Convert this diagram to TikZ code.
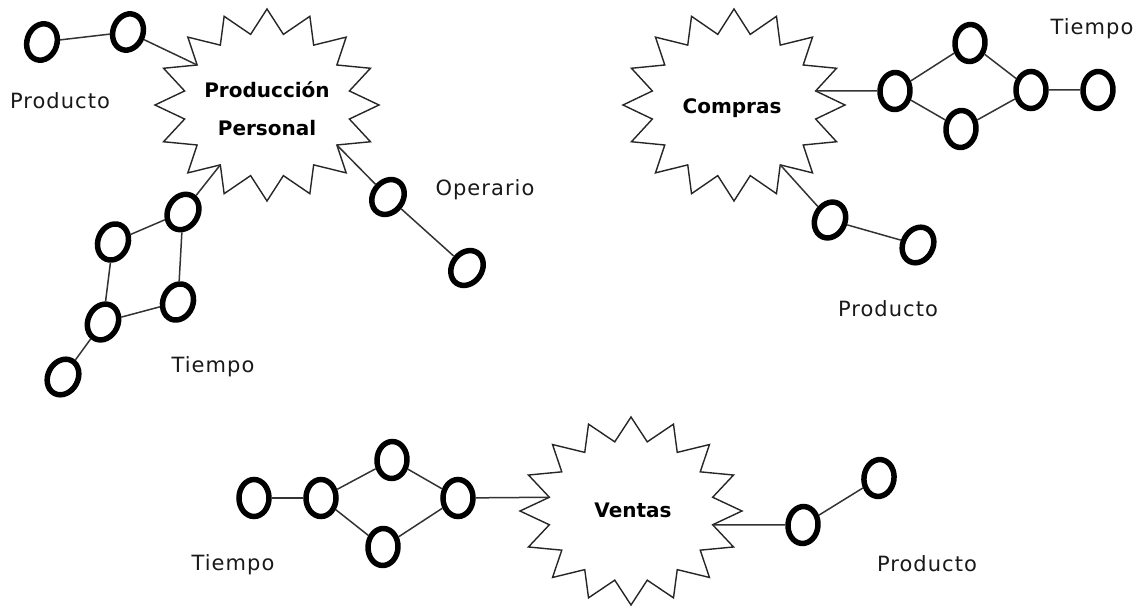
\documentclass[tikz,border=0pt]{standalone}
\usepackage{fontspec}
\setmainfont{DejaVu Sans}
\usetikzlibrary{shapes.geometric}

\tikzset{
  ring/.style={draw=black, ellipse, line width=5.5pt, minimum width=30pt,
               minimum height=37pt, inner sep=0pt},
  link/.style={draw=black!80, line width=1.5pt},
  burstline/.style={draw=black!85, line width=1.4pt, line join=miter, fill=white},
  caption/.style={font=\fontsize{21}{25}\selectfont\addfontfeature{LetterSpace=5},
                  text=black!90, inner sep=0pt},
  title/.style={font=\fontsize{20}{38}\selectfont\bfseries, align=center, inner sep=0pt},
}

% 16-point star centred at (#2,#3) with radii #4, #5; inner vertices are
% named #1-0 ... #1-15
\newcommand\burst[5]{%
  \draw[burstline] plot[samples at={0,...,31}]
    ({#2+#4*(1-0.25*mod(\x,2))*cos(90+11.25*\x)},
     {#3-#5*(1-0.25*mod(\x,2))*sin(90+11.25*\x)}) -- cycle;
  \foreach \k in {0,...,15}
    \coordinate (#1-\k) at ({#2+0.75*#4*cos(101.25+22.5*\k)},
                            {#3-0.75*#5*sin(101.25+22.5*\k)});
}

\begin{document}
\begin{tikzpicture}[x=1pt, y=-1pt]
\useasboundingbox (0,0) rectangle (1141,607);

% ---------------- Producción / Personal ----------------
\burst{prod}{267}{105}{112}{96}
\node[title] (prodtxt) at (267,109) {Producción\\Personal};

\node[ring, rotate=-18] (pa) at (42,42) {};
\node[ring, rotate=-20] (pb) at (128,32) {};
\node[ring, rotate=-30] (t1) at (183,212) {};
\node[ring, rotate=-22] (t2) at (113,242) {};
\node[ring, rotate=-22] (t3) at (178,302) {};
\node[ring, rotate=-25] (t4) at (103,322) {};
\node[ring, rotate=-28] (t5) at (63,377) {};
\node[ring, rotate=-35] (o1) at (388,197) {};
\node[ring, rotate=-35] (o2) at (467,268) {};

\draw[link] (pa) -- (pb);
\draw[link] (pb) -- (prod-2);
\draw[link] (t1) -- (prod-6);
\draw[link] (t1) -- (t2);
\draw[link] (t1) -- (t3);
\draw[link] (t2) -- (t4);
\draw[link] (t3) -- (t4);
\draw[link] (t4) -- (t5);
\draw[link] (o1) -- (prod-10);
\draw[link] (o1) -- (o2);

\node[caption] (lprod1) at (60,101) {Producto};
\node[caption] (ltiem1) at (213,367) {Tiempo};
\node[caption] (loper)  at (485,190) {Operario};

% ---------------- Compras ----------------
\burst{comp}{734}{105}{111}{96}
\node[title] (comptxt) at (732,108) {Compras};

\node[ring, rotate=-3] (c1) at (895,91) {};
\node[ring, rotate=-5] (c2) at (970,43) {};
\node[ring, rotate=-5] (c3) at (961,129) {};
\node[ring]            (c4) at (1031,90) {};
\node[ring, rotate=-3] (c5) at (1098,90) {};
\node[ring, rotate=-25] (cp1) at (830,220) {};
\node[ring, rotate=-28] (cp2) at (918,245) {};

\draw[link] (comp-12) -- (c1);
\draw[link] (c1) -- (c2);
\draw[link] (c1) -- (c3);
\draw[link] (c2) -- (c4);
\draw[link] (c3) -- (c4);
\draw[link] (c4) -- (c5);
\draw[link] (comp-9) -- (cp1);
\draw[link] (cp1) -- (cp2);

\node[caption] (ltiem2) at (1092,29) {Tiempo};
\node[caption] (lprod2) at (888,309) {Producto};

% ---------------- Ventas ----------------
\burst{vent}{631}{511}{111}{94}
\node[title] (venttxt) at (633,510) {Ventas};

\node[ring]            (v1) at (254,498) {};
\node[ring]            (v2) at (321,498) {};
\node[ring, rotate=-3] (v3) at (392,460) {};
\node[ring, rotate=-3] (v4) at (383,547) {};
\node[ring]            (v5) at (458,498) {};
\node[ring, rotate=-5] (r1) at (803,525) {};
\node[ring, rotate=-8] (r2) at (879,478) {};

\draw[link] (v1) -- (v2);
\draw[link] (v2) -- (v3);
\draw[link] (v2) -- (v4);
\draw[link] (v3) -- (v5);
\draw[link] (v4) -- (v5);
\draw[link] (v5) -- (vent-3);
\draw[link] (vent-11) -- (r1);
\draw[link] (r1) -- (r2);

\node[caption] (ltiem3) at (233,565) {Tiempo};
\node[caption] (lprod3) at (927,564) {Producto};
\end{tikzpicture}
\end{document}
